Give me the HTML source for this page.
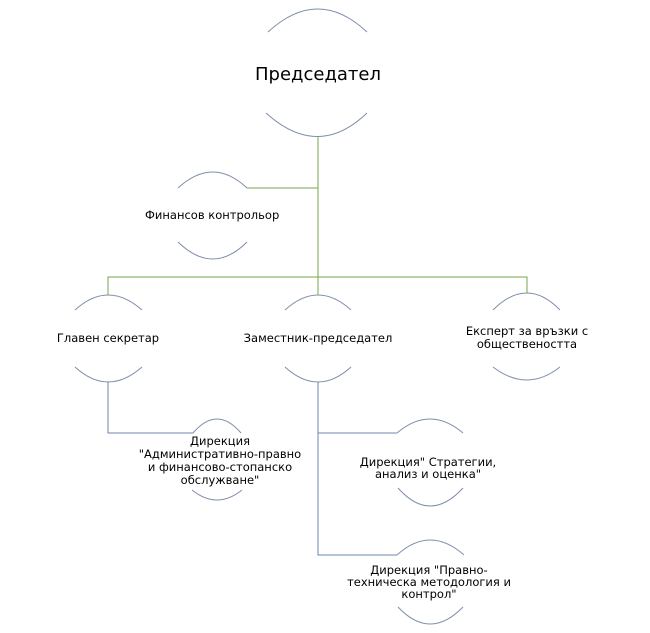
<!DOCTYPE html>
<html><head><meta charset="utf-8"><style>
html,body{margin:0;padding:0;background:#fff;}
svg{display:block;}
text{font-family:"DejaVu Sans","Liberation Sans",sans-serif;font-size:11.5px;fill:#000;}
</style></head><body>
<svg width="650" height="633" viewBox="0 0 650 633" xmlns="http://www.w3.org/2000/svg">
<g fill="none" stroke="#77a548" stroke-width="1">
<path d="M318 137V295"/>
<path d="M318 188H247"/>
<path d="M108 295V277H527V293"/>
</g>
<g fill="none" stroke="#6e87ad" stroke-width="1">
<path d="M108 382V433H193"/>
<path d="M318 382V555H397"/>
<path d="M318 433H397"/>
</g>
<g fill="none" stroke="#7f8eab" stroke-width="1">
<path d="M268 32Q318 -14 367 32"/>
<path d="M266 113Q318 160 367 113"/>
<path d="M178 188Q213 156 247 188"/>
<path d="M178 242Q213 276 247 242"/>
<path d="M75 310Q108 280 142 310"/>
<path d="M75 367Q108 397 142 367"/>
<path d="M285 310Q318 280 351 310"/>
<path d="M285 367Q318 397 351 367"/>
<path d="M493 310Q527 276 560 310"/>
<path d="M493 367Q527 393 560 367"/>
<path d="M193 433Q217 405 241 433"/>
<path d="M192 490Q217 510 242 490"/>
<path d="M397 433Q430 405 463 433"/>
<path d="M398 488Q430 524 463 488"/>
<path d="M397 555Q430 525 464 555"/>
<path d="M398 607Q430 641 463 607"/>
</g>
<text x="318" y="80" text-anchor="middle" style="font-size:18px">Председател</text>
<text x="145" y="219">Финансов контрольор</text>
<text x="108" y="342" text-anchor="middle">Главен секретар</text>
<text x="318" y="342" text-anchor="middle">Заместник-председател</text>
<text x="527" y="335" text-anchor="middle">Експерт за връзки с</text>
<text x="527" y="348" text-anchor="middle">обществеността</text>
<text x="220" y="445" text-anchor="middle">Дирекция</text>
<text x="220" y="458" text-anchor="middle">"Административно-правно</text>
<text x="220" y="471" text-anchor="middle">и финансово-стопанско</text>
<text x="220" y="484" text-anchor="middle">обслужване"</text>
<text x="428" y="466" text-anchor="middle">Дирекция" Стратегии,</text>
<text x="428" y="478" text-anchor="middle">анализ и оценка"</text>
<text x="429" y="574" text-anchor="middle">Дирекция "Правно-</text>
<text x="429" y="586" text-anchor="middle">техническа методология и</text>
<text x="429" y="598" text-anchor="middle">контрол"</text>
</svg>
</body></html>
